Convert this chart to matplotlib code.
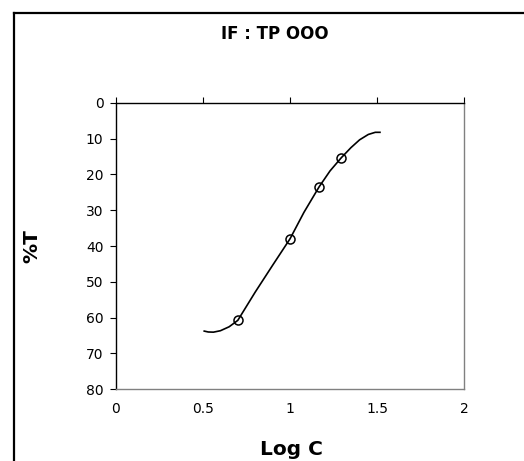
import numpy as np
import matplotlib.pyplot as plt
from matplotlib.lines import Line2D

plt.rcParams['font.family'] = ['DejaVu Sans']

# measured points
log_c = [0.70, 1.00, 1.168, 1.295]
pct_t = [60.8, 38.0, 23.4, 15.3]

# smoothed curve
curve_x = [0.507, 0.53, 0.56, 0.60, 0.65, 0.70, 0.80, 0.90, 1.00, 1.08, 1.168, 1.23, 1.295, 1.35, 1.40, 1.45, 1.49, 1.517]
curve_y = [63.8, 64.05, 64.1, 63.7, 62.6, 60.8, 52.9, 45.4, 38.0, 30.6, 23.4, 19.0, 15.3, 12.5, 10.3, 8.8, 8.2, 8.2]

xticks = [0, 0.5, 1, 1.5, 2]
xtick_labels = ['0', '0.5', '1', '1.5', '2']
yticks = [0, 10, 20, 30, 40, 50, 60, 70, 80]

fig = plt.figure(figsize=(5.24, 4.61), dpi=100)
ax = fig.add_axes([116/524, 1-389/461, 348/524, 286/461])

ax.plot(curve_x, curve_y, color='black', lw=1.2)
ax.plot(log_c, pct_t, 'o', mfc='none', mec='black', ms=6.5, mew=1.1)

ax.set_xlim(0, 2)
ax.set_ylim(80, 0)
ax.set_yticks(yticks)
ax.set_yticklabels([str(v) for v in yticks], fontsize=10)

# x axis sits at top (y=0), labels drawn low
ax.xaxis.set_ticks_position('top')
ax.set_xticks(xticks)
ax.tick_params(axis='x', which='both', direction='out', length=4, labeltop=False)
ax.tick_params(axis='y', direction='out', length=4, pad=5)
for xv, lab in zip(xticks, xtick_labels):
    ax.text(xv, 85.5, lab, ha='center', va='center', fontsize=10)

ax.spines['top'].set_color('black')
ax.spines['left'].set_color('black')
ax.spines['right'].set_color('#808080')
ax.spines['bottom'].set_color('#808080')
for s in ax.spines.values():
    s.set_linewidth(1.0)

fig.text(275/524, 1-34/461, 'IF : TP OOO', ha='center', va='center', fontsize=12, fontweight='bold')
fig.text(291/524, 1-449/461, 'Log C', ha='center', va='center', fontsize=14.5, fontweight='bold')
fig.text(32/524, 1-246/461, '%T', ha='center', va='center', rotation=90, fontsize=14.5, fontweight='bold')

# outer chart frame
fig.add_artist(Line2D([14/524, 14/524], [0, 1-13/461], color='black', lw=1.6, transform=fig.transFigure))
fig.add_artist(Line2D([14/524, 1], [1-13/461, 1-13/461], color='black', lw=1.6, transform=fig.transFigure))

fig.savefig('out.png', dpi=100)
